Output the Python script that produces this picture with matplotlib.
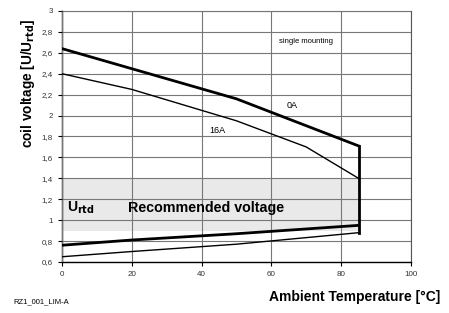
import matplotlib
matplotlib.use("Agg")
import matplotlib.pyplot as plt

plt.rcParams['font.family'] = ['Liberation Sans', 'DejaVu Sans']

# curve data
temp_0a = [0, 50, 85]
volt_0a = [2.64, 2.16, 1.71]
temp_16a = [0, 20, 50, 70, 85]
volt_16a = [2.40, 2.25, 1.95, 1.70, 1.40]
temp_min = [0, 20, 50, 85]
volt_min_thick = [0.76, 0.81, 0.87, 0.95]
volt_min_thin = [0.65, 0.70, 0.77, 0.88]
band_lo, band_hi = 0.9, 1.4
t_max = 85

y_ticks = [0.6, 0.8, 1, 1.2, 1.4, 1.6, 1.8, 2, 2.2, 2.4, 2.6, 2.8, 3]
y_labels = ['0,6', '0,8', '1', '1,2', '1,4', '1,6', '1,8', '2', '2,2', '2,4', '2,6', '2,8', '3']
x_ticks = [0, 20, 40, 60, 80, 100]

fig = plt.figure(figsize=(4.49, 3.13), dpi=100)
ax = fig.add_axes([0.138, 0.163, 0.777, 0.802])

ax.fill_between([0, t_max], band_lo, band_hi, color='#e9e9e9', zorder=1, linewidth=0)

ax.plot(temp_0a, volt_0a, color='black', lw=2.0, zorder=4)
ax.plot(temp_16a, volt_16a, color='black', lw=1.0, zorder=4)
ax.plot(temp_min, volt_min_thick, color='black', lw=2.0, zorder=4)
ax.plot(temp_min, volt_min_thin, color='black', lw=1.0, zorder=4)
ax.plot([t_max, t_max], [volt_0a[-1], volt_min_thin[-1]], color='black', lw=2.0, zorder=4)

ax.set_xlim(0, 100)
ax.set_ylim(0.6, 3)
ax.set_xticks(x_ticks)
ax.set_yticks(y_ticks)
ax.set_yticklabels(y_labels)
ax.tick_params(labelsize=5.8, length=3, width=0.8, colors='black', labelcolor='#333333')
ax.grid(True, color='#777777', lw=0.8, zorder=2)
ax.set_axisbelow(False)
for sp in ['top', 'right']:
    ax.spines[sp].set_color('#555555')
for sp in ['left', 'bottom']:
    ax.spines[sp].set_color('black')
    ax.spines[sp].set_linewidth(1.0)

ax.text(70, 2.71, 'single mounting', fontsize=5.5, ha='center', va='center', zorder=5)
ax.text(66, 2.1, '0A', fontsize=6.5, ha='center', va='center', zorder=5)
ax.text(44.5, 1.86, '16A', fontsize=6.5, ha='center', va='center', zorder=5)
ax.text(1.5, 1.12, r'U$_{\mathbf{rtd}}$', fontsize=10, fontweight='bold', ha='left', va='center', zorder=5)
ax.text(19, 1.12, 'Recommended voltage', fontsize=10.3, fontweight='bold', ha='left', va='center', zorder=5)

fig.text(0.062, 0.735, r'coil voltage [U/U$_{\mathbf{rtd}}$]', rotation=90, fontsize=9.8,
         fontweight='bold', ha='center', va='center')
fig.text(0.98, 0.052, 'Ambient Temperature [°C]', fontsize=10, fontweight='bold', ha='right', va='center')
fig.text(0.03, 0.035, 'RZ1_001_LIM-A', fontsize=5.5, ha='left', va='center')

fig.savefig('out.png', dpi=100)
